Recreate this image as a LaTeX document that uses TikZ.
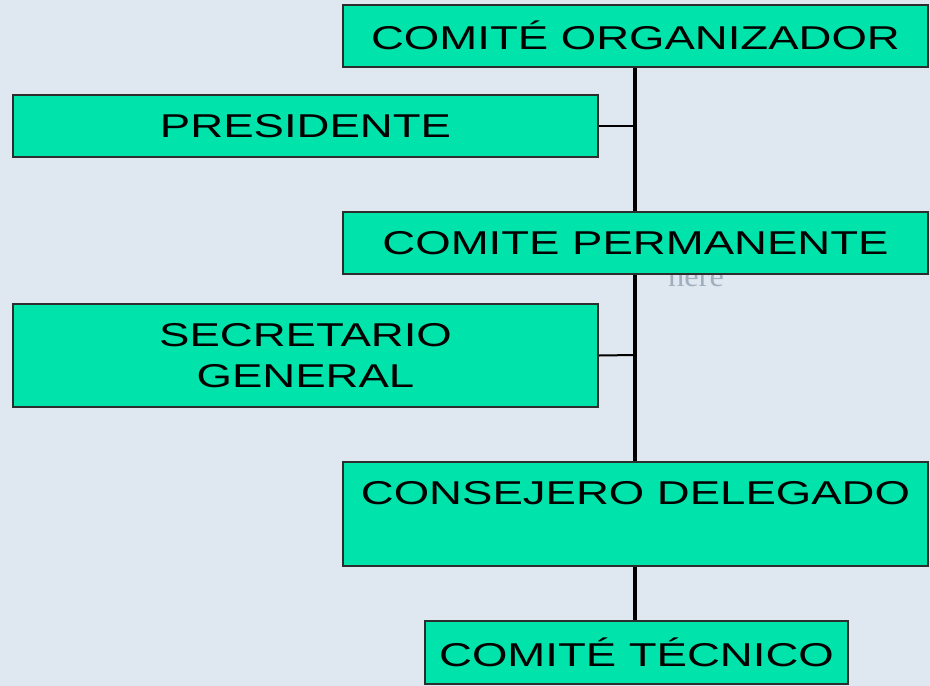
\documentclass[tikz,border=0pt]{standalone}
\usepackage{fontspec}
\setmainfont{Liberation Sans}
\newfontfamily\seriffont{Liberation Serif}
\usepackage{graphicx}
\usepackage{tikz}
\usetikzlibrary{positioning}
\definecolor{boxGreen}{RGB}{0,227,170}
\definecolor{bgBlue}{RGB}{223,232,241}
\definecolor{lineGray}{RGB}{45,45,45}
\definecolor{hintGray}{RGB}{160,174,190}
\newcommand{\wide}[1]{\scalebox{1.38}[1]{#1}}
\tikzset{
  orgbox/.style={rectangle, draw=lineGray, fill=boxGreen, line width=2pt,
                 inner sep=0pt, minimum width=585pt, minimum height=62pt,
                 font=\fontsize{33}{41}\selectfont, text=black},
  trunk/.style={draw=black, line width=3.3pt},
  branch/.style={draw=black, line width=2pt},
}
\begin{document}
\begin{tikzpicture}[x=1pt, y=-1pt]
    %% background
    \fill[bgBlue] (0,0) rectangle (930,686);
    \useasboundingbox (0,0) rectangle (930,686);
    %% faint label behind the box
    \node[anchor=base, text=hintGray, font=\seriffont\fontsize{30}{30}\selectfont,
          inner sep=0pt] (hint) at (696,286) {\scalebox{1.08}[1]{here}};
    %% trunk line
    \coordinate (top) at (635,66);
    \coordinate (bot) at (635,621);
    \coordinate (j1) at (635,126);
    \coordinate (j2) at (635,355);
    \draw[trunk] (top) -- (bot);
    %% boxes
    \node[orgbox] (comite) at (635.5,35.5) {\wide{COMITÉ ORGANIZADOR}};
    \node[orgbox] (pres) at (305.5,126) {\wide{PRESIDENTE}};
    \node[orgbox] (perm) at (635.5,243) {\wide{COMITE PERMANENTE}};
    \node[orgbox, minimum height=103pt, align=center] (secr) at (305.5,355.5)
      {\wide{SECRETARIO}\\\wide{GENERAL}};
    \node[orgbox, minimum height=104pt] (cons) at (635.5,514) {};
    \node[anchor=base, font=\fontsize{33}{41}\selectfont, inner sep=0pt]
      (consT) at (635.5,504) {\wide{CONSEJERO DELEGADO}};
    \node[orgbox, minimum width=423pt, minimum height=63pt] (tec) at (636.5,652.5)
      {\wide{COMITÉ TÉCNICO}};
    %% side branches
    \draw[branch] (pres.east) -- (j1);
    \draw[branch] (secr.east) -- (j2);
\end{tikzpicture}
\end{document}
